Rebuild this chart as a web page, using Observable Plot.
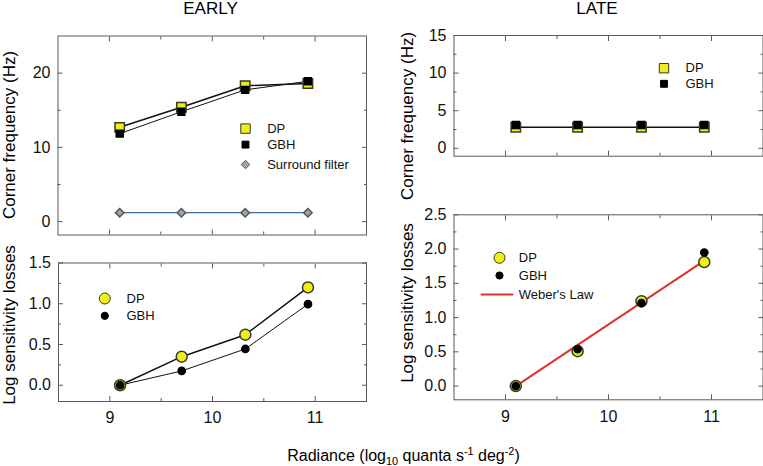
<!DOCTYPE html>
<html><head><meta charset="utf-8">
<script src="https://cdn.jsdelivr.net/npm/d3@7"></script>
<script src="https://cdn.jsdelivr.net/npm/@observablehq/plot@0.6"></script>
<style>
body{margin:0;background:#fff;}
#chart{position:relative;width:763px;height:466px;overflow:hidden;font-family:"Liberation Sans",Arial,sans-serif;color:#000;background:#fff;}
.panel{position:absolute;}
.lbl{position:absolute;white-space:nowrap;line-height:1;font-size:17px;}
.rot{transform:translate(-50%,-50%) rotate(-90deg);}
sub,sup{font-size:0.68em;line-height:0;}
</style></head><body><div id="chart"></div>
<script>
// ---- data ----
const radiance = [9.1, 9.7, 10.32, 10.93];
const earlyCornerDP = [12.7, 15.4, 18.3, 18.6];
const earlyCornerGBH = [11.85, 14.8, 17.75, 18.9];
const surroundFilter = [1.2, 1.2, 1.2, 1.2];
const earlyLossDP = [0, 0.35, 0.62, 1.2];
const earlyLossGBH = [0, 0.175, 0.445, 0.995];
const lateCornerDP = [2.8, 2.8, 2.8, 2.8];
const lateCornerGBH = [3.1, 3.1, 3.1, 3.1];
const lateLossDP = [0, 0.51, 1.24, 1.81];
const lateLossGBH = [0, 0.54, 1.21, 1.95];
const weberX = [9.1, 10.92];
const weberY = [0, 1.82];
const xTicks = [9, 10, 11];
const xMinor = [9.5, 10.5];
const earlyCornerTicks = [0, 10, 20];
const earlyCornerMinor = [5, 15];
const lossTicksEarly = [0, 0.5, 1.0, 1.5];
const lossMinorEarly = [0.25, 0.75, 1.25];
const lateCornerTicks = [0, 5, 10, 15];
const lateCornerMinor = [2.5, 7.5, 12.5];
const lossTicksLate = [0, 0.5, 1.0, 1.5, 2.0, 2.5];
const lossMinorLate = [0.25, 0.75, 1.25, 1.75, 2.25];

// ---- style ----
const GRAY = "#5a5a5a";
const YEL = "#eeee1c";
const DK = "#3a3a20";
const FONT = "'Liberation Sans', Arial, sans-serif";

const rows = (ys) => radiance.map((x, i) => Object.fromEntries([["x", x], ...Object.entries(ys).map(([k, v]) => [k, v[i]])]));
const earlyCorner = rows({dp: earlyCornerDP, gbh: earlyCornerGBH, sf: surroundFilter});
const earlyLoss = rows({dp: earlyLossDP, gbh: earlyLossGBH});
const lateCorner = rows({dp: lateCornerDP, gbh: lateCornerGBH});
const lateLoss = rows({dp: lateLossDP, gbh: lateLossGBH});
const weber = weberX.map((x, i) => ({x, y: weberY[i]}));

function frameAxes(yMajor, yMinor, yFmt, showX, xPad) {
  const m = [Plot.frame({stroke: GRAY})];
  for (const anchor of ["bottom", "top"]) {
    m.push(Plot.axisX(xTicks, {anchor, tickSize: -5, fill: "none", stroke: GRAY, label: null}));
    m.push(Plot.axisX(xMinor, {anchor, tickSize: -3, fill: "none", stroke: GRAY, label: null}));
  }
  for (const anchor of ["left", "right"]) {
    m.push(Plot.axisY(yMajor, {anchor, tickSize: -5, fill: "none", stroke: GRAY, label: null}));
    m.push(Plot.axisY(yMinor, {anchor, tickSize: -3, fill: "none", stroke: GRAY, label: null}));
  }
  m.push(Plot.axisY(yMajor, {anchor: "left", tickSize: 0, tickPadding: 7.5, tickFormat: yFmt, label: null, fill: "#111"}));
  if (showX) m.push(Plot.axisX(xTicks, {anchor: "bottom", tickSize: 0, tickPadding: xPad, tickFormat: d3.format("d"), label: null, fill: "#111"}));
  return m;
}

function legendDot(dx, dy, symbol, r, fill, stroke) {
  return Plot.dot([0], {frameAnchor: "top-left", dx, dy, symbol, r, fill, stroke, strokeWidth: 1});
}
function legendText(label, dx, dy) {
  return Plot.text([label], {text: d => d, frameAnchor: "top-left", lineAnchor: "middle", dx, dy, textAnchor: "start", fontSize: 13, fill: "#111"});
}

const chart = document.getElementById("chart");
function place(svg, left, top) {
  const d = document.createElement("div");
  d.className = "panel";
  d.style.left = left + "px";
  d.style.top = top + "px";
  d.appendChild(svg);
  chart.appendChild(d);
}
const base = {style: {fontSize: "16px", fontFamily: FONT, background: "transparent", color: "#111"}};

// Panel A: EARLY corner frequency
place(Plot.plot({
  ...base, width: 380, height: 245,
  marginLeft: 57.5, marginRight: 14, marginTop: 35.5, marginBottom: 10.5,
  x: {domain: [8.5, 11.5]}, y: {domain: [-1.8, 25]},
  marks: [
    ...frameAxes(earlyCornerTicks, earlyCornerMinor, d3.format("d"), false),
    Plot.line(earlyCorner, {x: "x", y: "sf", stroke: "#3f6d9e", strokeWidth: 1.3}),
    Plot.line(earlyCorner, {x: "x", y: "dp", stroke: "#111", strokeWidth: 1.5}),
    Plot.line(earlyCorner, {x: "x", y: "gbh", stroke: "#111", strokeWidth: 1}),
    Plot.dot(earlyCorner, {x: "x", y: "sf", symbol: "diamond2", r: 3.8, fill: "#a3a3a3", stroke: "#555"}),
    Plot.dot(earlyCorner, {x: "x", y: "dp", symbol: "square", r: 5.3, fill: YEL, stroke: DK}),
    Plot.dot(earlyCorner, {x: "x", y: "gbh", symbol: "square", r: 3.9, fill: "#000", stroke: "#000"}),
    legendDot(187.5, 92.6, "square", 5.3, YEL, DK),
    legendText("DP", 209.2, 92.6),
    legendDot(187.5, 108.6, "square", 3.9, "#000", "#000"),
    legendText("GBH", 209.2, 108.6),
    legendDot(187.5, 128.6, "diamond2", 3.8, "#a3a3a3", "#555"),
    legendText("Surround filter", 209.2, 128.6)
  ]
}), 0, 0);

// Panel B: EARLY log sensitivity losses
place(Plot.plot({
  ...base, width: 380, height: 221,
  marginLeft: 58, marginRight: 14, marginTop: 17.5, marginBottom: 65,
  x: {domain: [8.5, 11.5]}, y: {domain: [-0.2, 1.5]},
  marks: [
    ...frameAxes(lossTicksEarly, lossMinorEarly, d3.format(".1f"), true, 10),
    Plot.line(earlyLoss, {x: "x", y: "dp", stroke: "#111", strokeWidth: 1.5}),
    Plot.line(earlyLoss, {x: "x", y: "gbh", stroke: "#111", strokeWidth: 1}),
    Plot.dot(earlyLoss, {x: "x", y: "dp", r: 5.5, fill: YEL, stroke: DK}),
    Plot.dot(earlyLoss, {x: "x", y: "gbh", r: 3.6, fill: "#000", stroke: "#000"}),
    legendDot(46.3, 35.5, "circle", 5.5, YEL, DK),
    legendText("DP", 68, 35.5),
    legendDot(46.3, 52.8, "circle", 3.6, "#000", "#000"),
    legendText("GBH", 68, 52.8)
  ]
}), 0, 245);

// Panel C: LATE corner frequency
place(Plot.plot({
  ...base, width: 383, height: 170,
  marginLeft: 73.5, marginRight: 0.5, marginTop: 35, marginBottom: 14.3,
  x: {domain: [8.5, 11.5]}, y: {domain: [-1.05, 15]},
  marks: [
    ...frameAxes(lateCornerTicks, lateCornerMinor, d3.format("d"), false),
    Plot.line(lateCorner, {x: "x", y: "dp", stroke: "#111", strokeWidth: 1.3}),
    Plot.dot(lateCorner, {x: "x", y: "dp", symbol: "square", r: 5.3, fill: YEL, stroke: DK}),
    Plot.dot(lateCorner, {x: "x", y: "gbh", symbol: "square", r: 3.9, fill: "#000", stroke: "#000"}),
    legendDot(210, 32.7, "square", 5.3, YEL, DK),
    legendText("DP", 231.5, 32.7),
    legendDot(210, 48.3, "square", 3.9, "#000", "#000"),
    legendText("GBH", 231.5, 48.3)
  ]
}), 380, 0);

// Panel D: LATE log sensitivity losses
place(Plot.plot({
  ...base, width: 383, height: 296,
  marginLeft: 73.5, marginRight: 0.5, marginTop: 44.3, marginBottom: 66.7,
  x: {domain: [8.5, 11.5]}, y: {domain: [-0.2, 2.5]},
  marks: [
    ...frameAxes(lossTicksLate, lossMinorLate, d3.format(".1f"), true, 11),
    Plot.line(weber, {x: "x", y: "y", stroke: "#e2302a", strokeWidth: 2}),
    Plot.dot(lateLoss, {x: "x", y: "dp", r: 5.5, fill: YEL, stroke: DK}),
    Plot.dot(lateLoss, {x: "x", y: "gbh", r: 3.6, fill: "#000", stroke: "#000"}),
    legendDot(45.5, 43, "circle", 5.5, YEL, DK),
    legendText("DP", 64.8, 43),
    legendDot(45.5, 60.7, "circle", 3.6, "#000", "#000"),
    legendText("GBH", 64.8, 60.7),
    Plot.vector([0], {frameAnchor: "top-left", dx: 27.5, dy: 79.7, length: 31, rotate: 90, anchor: "start",
      shape: {draw(ctx, l) { ctx.moveTo(0, 0); ctx.lineTo(0, -l); }}, stroke: "#e2302a", strokeWidth: 2}),
    legendText("Weber's Law", 64.8, 79.7)
  ]
}), 380, 170);

// ---- titles / axis labels ----
function label(html, css, cls) {
  const d = document.createElement("div");
  d.className = "lbl" + (cls ? " " + cls : "");
  d.innerHTML = html;
  Object.assign(d.style, css);
  chart.appendChild(d);
}
label("EARLY", {left: "210.5px", top: "0px", transform: "translateX(-50%)"});
label("LATE", {left: "597px", top: "0px", transform: "translateX(-50%)"});
label("Corner frequency (Hz)", {left: "8.5px", top: "135px"}, "rot");
label("Log sensitivity losses", {left: "9px", top: "325px"}, "rot");
label("Corner frequency (Hz)", {left: "407px", top: "116px"}, "rot");
label("Log sensitivity losses", {left: "407px", top: "302.5px"}, "rot");
label("Radiance (log<sub>10</sub> quanta s<sup>-1</sup> deg<sup>-2</sup>)", {left: "403.5px", top: "447.5px", fontSize: "16px", transform: "translateX(-50%)"});
</script></body></html>
